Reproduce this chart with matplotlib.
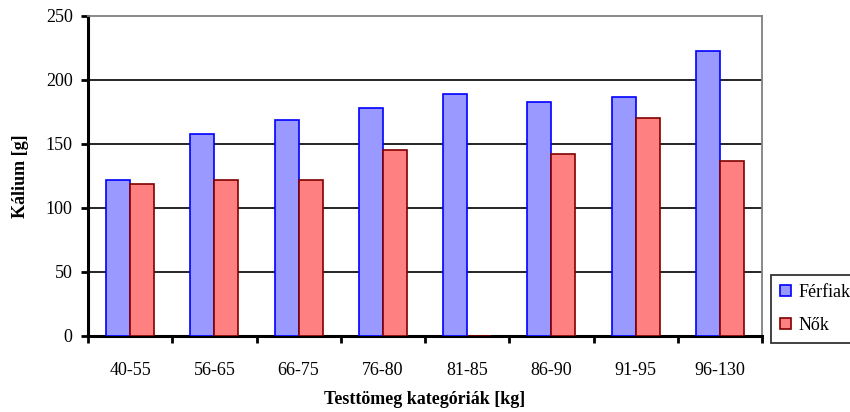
import numpy as np
import matplotlib
matplotlib.use("Agg")
from matplotlib import pyplot as plt

categories = ["40-55", "56-65", "66-75", "76-80", "81-85", "86-90", "91-95", "96-130"]
ferfiak = [122, 158, 169, 178, 189, 183, 187, 223]
nok = [119, 122, 122, 145, 0, 142, 170, 137]

plt.rcParams['font.family'] = ['Liberation Serif', 'DejaVu Serif']

fig = plt.figure(figsize=(8.5, 4.12), dpi=100)
ax = fig.add_axes([88/850, 1-336/412, 674/850, 320/412])

x = np.arange(len(categories))
w = 1/3.5
ax.bar(x - w/2, ferfiak, w, color='#9999FF', edgecolor='#0000FF', linewidth=1.2,
       label='Férfiak', zorder=3)
ax.bar(x + w/2, nok, w, color='#FF8080', edgecolor='#800000', linewidth=1.2,
       label='Nők', zorder=3)

ax.set_xlim(-0.5, len(categories) - 0.5)
ax.set_ylim(0, 250)
ax.set_yticks(range(0, 251, 50))
for y in range(50, 250, 50):
    ax.axhline(y, color='black', linewidth=1.2, zorder=1)

# labels centred under categories, tick marks on the boundaries
ax.set_xticks(x)
ax.set_xticklabels(categories, fontsize=13)
ax.set_xticks(np.arange(-0.5, len(categories)), minor=True)
ax.tick_params(axis='x', which='major', length=0, pad=19)
ax.tick_params(axis='x', which='minor', length=5, width=2, direction='out')
ax.tick_params(axis='y', length=5, width=2, direction='out', labelsize=13, pad=6)

for s in ['left', 'bottom']:
    ax.spines[s].set_linewidth(2.2)
    ax.spines[s].set_color('black')
for s in ['top', 'right']:
    ax.spines[s].set_linewidth(1.3)
    ax.spines[s].set_color('#808080')

ax.set_xlabel('Testtömeg kategóriák [kg]', fontsize=13, fontweight='bold', labelpad=8)
ax.set_ylabel('Kálium [g]', fontsize=13, fontweight='bold', labelpad=12)

leg = fig.legend(loc='lower left', bbox_to_anchor=(771/850, 69/412), fontsize=13,
                 frameon=True, fancybox=False, edgecolor='black', handlelength=0.6,
                 handleheight=0.6, labelspacing=0.9, borderpad=0.5, handletextpad=0.45,
                 borderaxespad=0)
leg.get_frame().set_linewidth(1.3)

fig.savefig('out.png', dpi=100)
